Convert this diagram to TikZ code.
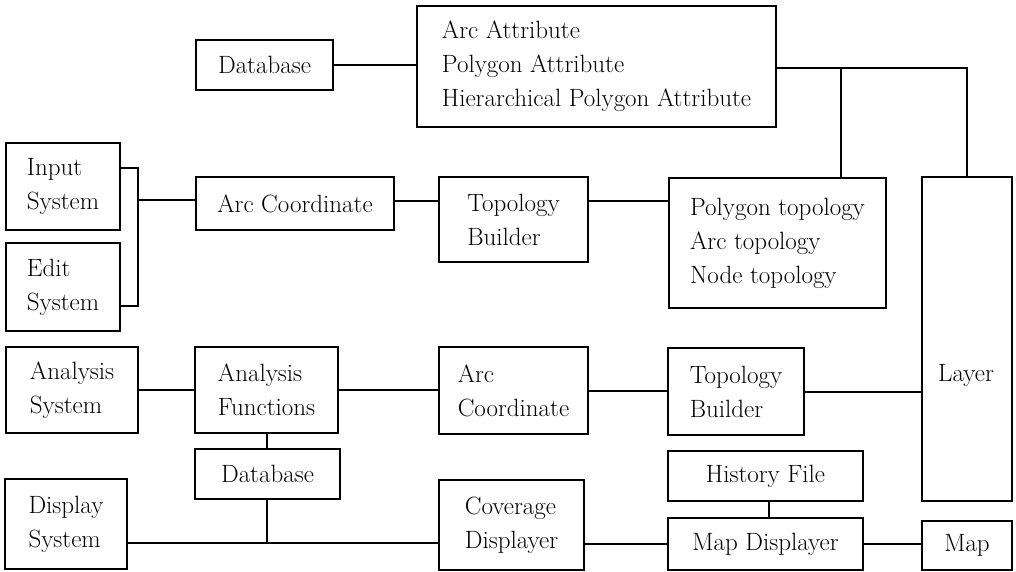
\documentclass[tikz,border=0pt]{standalone}
\begin{document}
\begin{tikzpicture}[x=1pt,y=-1pt,
  box/.style={draw,line width=1.3pt,rectangle,inner sep=0pt,align=left,
    font=\fontsize{25}{34}\selectfont},
  conn/.style={line width=1.3pt}]
\useasboundingbox (0,0) rectangle (1016,571);
% nodes
\node[box,minimum width=137pt,minimum height=50pt] (db1) at (264.5,65) {Database};
\node[box,minimum width=359pt,minimum height=121pt] (attr) at (596.5,66.5) {Arc Attribute\\Polygon Attribute\\Hierarchical Polygon Attribute};
\node[box,minimum width=114pt,minimum height=87pt] (input) at (63,186.5) {Input\\System};
\node[box,minimum width=114pt,minimum height=88pt] (edit) at (63,287) {Edit\\System};
\node[box,minimum width=198pt,minimum height=53pt] (arc1) at (295,203.5) {Arc Coordinate};
\node[box,minimum width=149pt,minimum height=85pt] (tb1) at (513.5,219.5) {Topology\\Builder};
\node[box,minimum width=217pt,minimum height=130pt] (poly) at (777.5,243) {Polygon topology\\Arc topology\\Node topology};
\node[box,minimum width=90pt,minimum height=324pt] (layer) at (967,339) {};
\node[font=\fontsize{25}{34}\selectfont,inner sep=0pt] (layertext) at (966,375) {Layer};
\node[box,minimum width=132pt,minimum height=86pt] (as) at (72,390) {Analysis\\System};
\node[box,minimum width=143pt,minimum height=86pt] (af) at (266.5,390) {Analysis\\Functions};
\node[box,minimum width=149pt,minimum height=87pt] (arc2) at (513.5,390.5) {Arc\\Coordinate};
\node[box,minimum width=136pt,minimum height=87pt] (tb2) at (736,391.5) {Topology\\Builder};
\node[box,minimum width=145pt,minimum height=50pt] (db2) at (267.5,474) {Database};
\node[box,minimum width=122pt,minimum height=90pt] (ds) at (66,524) {Display\\System};
\node[box,minimum width=145pt,minimum height=90pt] (cov) at (511.5,525) {Coverage\\Displayer};
\node[box,minimum width=195pt,minimum height=50pt] (hist) at (765.5,476) {History File};
\node[box,minimum width=195pt,minimum height=52pt] (mapd) at (765.5,544) {Map Displayer};
\node[box,minimum width=90pt,minimum height=49pt] (map) at (967,545.5) {Map};
% junction coordinates
\coordinate (br) at (138,200);
\coordinate (j1) at (841,68);
\coordinate (dsl) at ([yshift=-19pt]ds.east);
% connectors
\draw[conn] (db1.east) -- (db1.east -| attr.west);
\draw[conn] ([yshift=18.5pt]input.east) -| (br) |- ([yshift=-19pt]edit.east);
\draw[conn] (br) -- (br -| arc1.west);
\draw[conn] ([yshift=2.5pt]arc1.east) -- ([yshift=2.5pt]arc1.east -| tb1.west);
\draw[conn] ([yshift=18.5pt]tb1.east) -- ([yshift=18.5pt]tb1.east -| poly.west);
\draw[conn] ([yshift=-1.5pt]attr.east) -| (layer.north);
\draw[conn] (j1) -- (j1 |- poly.north);
\draw[conn] (as.east) -- (af.west);
\draw[conn] (af.east) -- (af.east -| arc2.west);
\draw[conn] ([yshift=-0.5pt]arc2.east) -- ([yshift=-0.5pt]arc2.east -| tb2.west);
\draw[conn] ([yshift=-0.5pt]tb2.east) -- ([yshift=-0.5pt]tb2.east -| layer.west);
\draw[conn] ([xshift=0.5pt]af.south) -- ([xshift=0.5pt]af.south |- db2.north);
\draw[conn] (dsl) -- (dsl -| cov.west);
\draw[conn] ([xshift=-0.5pt]db2.south) -- ([xshift=-0.5pt]db2.south |- dsl);
\draw[conn] ([yshift=-19pt]cov.east) -- ([yshift=-19pt]cov.east -| mapd.west);
\draw[conn] ([xshift=3.5pt]hist.south) -- ([xshift=3.5pt]mapd.north);
\draw[conn] (mapd.east) -- (mapd.east -| map.west);
\end{tikzpicture}
\end{document}
